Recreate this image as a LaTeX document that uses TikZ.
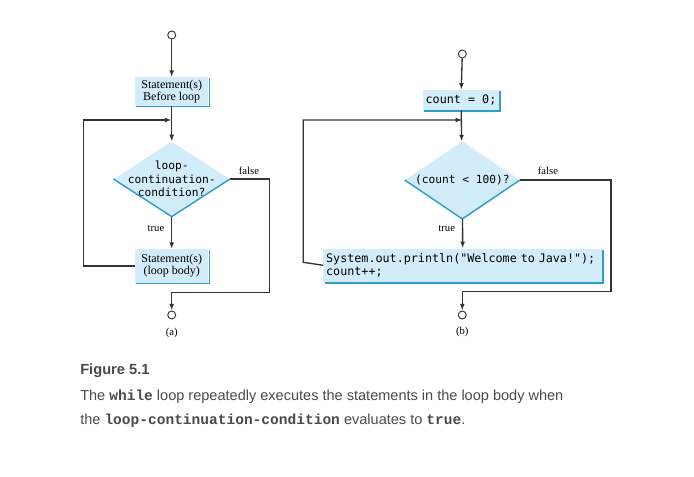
\documentclass[tikz,border=0pt]{standalone}
\usepackage{fontspec}
\usepackage{xcolor}
\usepackage{tikz}
\usetikzlibrary{shapes.geometric,arrows.meta}
\setmainfont{Liberation Serif}
\newfontfamily\codefont{DejaVu Sans Mono}[WordSpace={1,0,0}]
\newfontfamily\capfont{Liberation Sans}
\newfontfamily\capcode{Liberation Mono}[WordSpace={1,0,0}]
\definecolor{linegray}{HTML}{333333}
\definecolor{boxblue}{HTML}{D3ECF9}
\definecolor{edgeblue}{HTML}{2F9FCC}
\definecolor{capgray}{HTML}{4A4A4A}
\tikzset{
  flowbox/.style={rectangle, fill=boxblue, inner sep=2pt, align=center, font=\fontsize{9}{10}\selectfont},
  decision/.style={diamond, fill=boxblue, inner sep=0pt},
  condtext/.style={inner sep=0pt, align=center, font=\codefont\fontsize{8.4}{10.2}\selectfont},
  terminal/.style={circle, draw=linegray, line width=0.7pt, fill=white, inner sep=0pt, minimum size=6pt},
  flowlabel/.style={inner sep=0pt, font=\fontsize{8}{9}\selectfont},
  flow/.style={draw=linegray, line width=1pt, -{Latex[length=5pt,width=3.6pt]}},
  captext/.style={anchor=west, inner sep=0pt, text=capgray, font=\capfont\fontsize{10.9}{12}\selectfont}
}
\newcommand{\cc}[1]{{\capcode\bfseries #1}}
\begin{document}
\begin{tikzpicture}[x=0.75pt, y=-0.75pt]
        \fill[white] (0,0) rectangle (694,476);

        % (a) generic while loop
        \node[terminal] (StartA) at (171.7,35) {};
        \node[flowbox, minimum width=55pt, minimum height=21pt] (BeforeA) at (171.7,91.5) {Statement(s)\\[-1pt]Before loop};
        \node[decision, minimum width=87pt, minimum height=56pt] (CondA) at (171.7,179) {};
        \node[condtext] (CondTextA) at (CondA.center) {loop-\\continuation-\\condition?};
        \node[flowbox, minimum width=55pt, minimum height=25pt] (BodyA) at (171.7,266) {Statement(s)\\[-1pt](loop body)};
        \node[terminal] (EndA) at (171.7,315) {};
        \coordinate (MergeA) at (171.7,120);
        \coordinate (FalseA) at (269.3,292.7);
        \node[flowlabel] (FalseLblA) at (249,171) {false};
        \node[flowlabel] (TrueLblA) at (156,229) {true};
        \node[flowlabel] (CapA) at (171.7,333) {(a)};

        % (b) counting loop
        \node[terminal] (StartB) at (462.3,54) {};
        \node[flowbox, font=\codefont\fontsize{8.8}{10}\selectfont, minimum width=57pt, minimum height=15pt] (CountB) at (461,100) {count = 0;};
        \node[decision, minimum width=86pt, minimum height=58pt] (CondB) at (462.3,180) {};
        \node[condtext] (CondTextB) at (CondB.center) {(count < 100)?};
        \node[flowbox, font=\codefont\fontsize{8.8}{9.8}\selectfont, align=left, text width=205pt, minimum height=25pt] (BodyB) at (462.8,265.3) {System.out.println("Welcome to Java!");\\count++;};
        \node[terminal] (EndB) at (462.3,315) {};
        \coordinate (MergeB) at (462.3,120);
        \coordinate (FalseB) at (611,291.7);
        \node[flowlabel] (FalseLblB) at (548,171) {false};
        \node[flowlabel] (TrueLblB) at (446.7,229) {true};
        \node[flowlabel] (CapB) at (462.3,332) {(b)};

        % blue edges of the boxes and diamonds
        \foreach \b in {BeforeA, BodyA, CountB, BodyB}
          \draw[edgeblue, line width=1.1pt] ([xshift=1pt, yshift=-0.5pt]\b.south west) -- ([xshift=0.5pt, yshift=-0.5pt]\b.south east) -- ([xshift=0.5pt, yshift=-1pt]\b.north east);
        \foreach \d in {CondA, CondB}
          \draw[edgeblue, line width=1.1pt] (\d.west) -- (\d.south) -- (\d.east);

        % connectors (a)
        \draw[flow] (StartA) -- (BeforeA);
        \draw[flow] (BeforeA) -- (CondA);
        \draw[flow] (CondA) -- (BodyA);
        \draw[flow] (BodyA.west) -- (83.3,266) |- (MergeA);
        \draw[flow] (CondA.east) -| (FalseA) -| (EndA);

        % connectors (b)
        \draw[flow] (StartB) -- (CountB);
        \draw[flow] (CountB) -- (CondB);
        \draw[flow] (CondB) -- (BodyB);
        \draw[flow] (BodyB.west) -- (303.3,262.3) |- (MergeB);
        \draw[flow] (CondB.east) -| (FalseB) -| (EndB);

        % caption
        \node[captext, font=\capfont\bfseries\fontsize{11}{12}\selectfont] (FigNum) at (80,371) {Figure 5.1};
        \node[captext] (CapLine1) at (80,396.7) {The \cc{while} loop repeatedly executes the statements in the loop body when};
        \node[captext] (CapLine2) at (80,421) {the \cc{loop-continuation-condition} evaluates to \cc{true}.};
    \end{tikzpicture}
\end{document}
